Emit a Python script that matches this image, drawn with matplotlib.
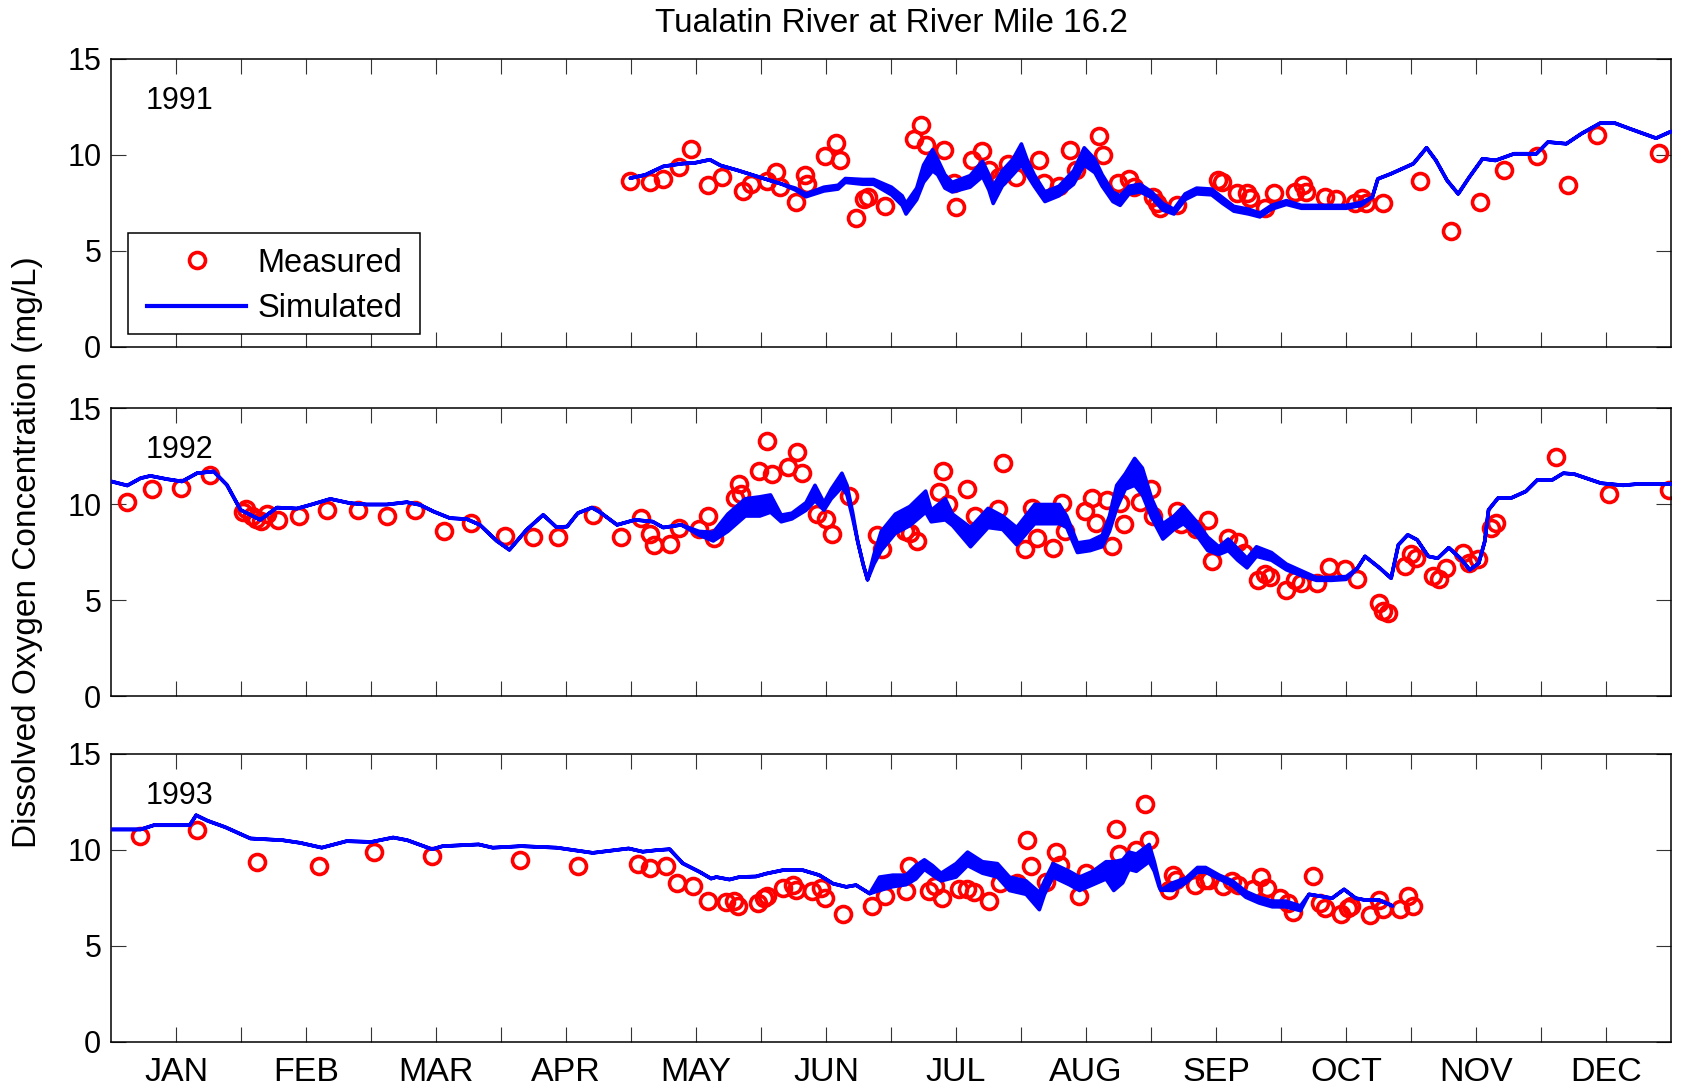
import numpy as np
import matplotlib
matplotlib.use("Agg")
import matplotlib.pyplot as plt
from matplotlib.lines import Line2D
from matplotlib.patches import Rectangle

plt.rcParams["font.family"] = ["Liberation Sans", "DejaVu Sans"]
plt.rcParams["font.size"] = 22

months = ["JAN", "FEB", "MAR", "APR", "MAY", "JUN",
          "JUL", "AUG", "SEP", "OCT", "NOV", "DEC"]
years = ["1991", "1992", "1993"]

# ---- measured dissolved oxygen (day of year, mg/L) ----
m91_day = [121.4, 126.2, 129.1, 132.9, 135.8, 139.7, 143.0, 147.9, 149.7, 153.6,
           155.6, 156.6, 160.3, 162.3, 162.8, 167.1, 169.6, 170.6, 174.2, 176.3,
           177.1, 181.0, 187.8, 189.6, 190.6, 194.8, 197.3, 197.8, 201.5, 203.8,
           205.5, 207.8, 209.8, 211.7, 217.2, 218.2, 221.8, 224.3, 225.7, 231.2,
           232.0, 235.5, 238.1, 239.4, 243.8, 244.7, 245.5, 249.5, 259.1, 260.0,
           263.5, 265.7, 266.5, 270.0, 272.2, 277.0, 278.8, 279.7, 284.0, 286.6,
           291.0, 292.8, 293.7, 297.6, 306.3, 313.5, 320.2, 326.0, 333.7, 340.9,
           347.6, 362.1]
m91_do = [8.65, 8.61, 8.73, 9.39, 10.3, 8.44, 8.84, 8.13, 8.49, 8.66,
          9.13, 8.35, 7.57, 8.96, 8.49, 9.97, 10.6, 9.74, 6.74, 7.71,
          7.83, 7.34, 10.83, 11.56, 10.52, 10.26, 8.52, 7.31, 9.74, 10.21,
          9.22, 8.87, 9.51, 8.87, 9.74, 8.52, 8.39, 10.26, 9.22, 10.99,
          10.0, 8.52, 8.73, 8.35, 7.83, 7.48, 7.22, 7.40, 8.70, 8.61,
          8.0, 8.0, 7.74, 7.22, 8.0, 8.09, 8.44, 8.09, 7.83, 7.69,
          7.48, 7.74, 7.48, 7.48, 8.66, 6.06, 7.57, 9.22, 9.95, 8.44,
          11.04, 10.09]

m92_day = [3.8, 9.7, 16.3, 23.1, 30.9, 31.7, 32.9, 34.0, 35.2, 36.4,
           39.1, 43.9, 50.5, 57.8, 64.6, 71.2, 78.0, 84.3, 92.1, 98.7,
           104.5, 112.7, 119.4, 124.1, 126.0, 127.1, 130.8, 132.9, 137.5, 139.8,
           141.0, 145.9, 147.0, 147.5, 151.7, 153.6, 154.7, 158.5, 160.6, 161.6,
           165.2, 167.3, 168.7, 172.6, 179.2, 180.3, 185.8, 187.0, 188.7, 193.7,
           194.7, 195.8, 200.2, 202.1, 207.5, 208.8, 213.8, 215.4, 216.7, 220.3,
           222.4, 223.2, 227.8, 229.5, 230.5, 233.0, 234.2, 236.1, 237.0, 240.7,
           243.4, 243.9, 249.5, 250.4, 253.9, 256.6, 257.5, 261.3, 263.6, 265.2,
           268.3, 270.0, 271.2, 274.9, 277.0, 278.4, 282.2, 285.1, 288.8, 291.5,
           296.6, 297.6, 298.7, 302.7, 304.2, 305.3, 309.4, 310.7, 312.4, 316.3,
           317.7, 319.9, 322.9, 324.0, 338.0, 350.5, 364.5]
m92_do = [10.1, 10.76, 10.85, 11.49, 9.6, 9.72, 9.38, 9.2, 9.13, 9.48,
          9.16, 9.38, 9.67, 9.67, 9.36, 9.67, 8.59, 9.03, 8.33, 8.28,
          8.28, 9.43, 8.3, 9.29, 8.42, 7.86, 7.93, 8.77, 8.69, 9.38,
          8.25, 10.33, 11.02, 10.5, 11.72, 13.3, 11.58, 11.93, 12.71, 11.63,
          9.46, 9.2, 8.45, 10.42, 8.37, 7.64, 8.59, 8.51, 8.07, 10.64,
          11.72, 9.98, 10.76, 9.38, 9.72, 12.15, 7.64, 9.81, 8.25, 7.73,
          10.07, 8.59, 9.64, 10.33, 9.03, 10.2, 7.81, 10.07, 8.94, 10.1,
          10.76, 9.38, 9.64, 8.94, 8.68, 9.15, 7.03, 8.25, 8.04, 7.47,
          6.02, 6.34, 6.2, 5.5, 6.02, 5.9, 5.9, 6.72, 6.6, 6.08,
          4.86, 4.43, 4.3, 6.77, 7.38, 7.2, 6.25, 6.08, 6.69, 7.47,
          6.94, 7.12, 8.77, 9.03, 12.45, 10.54, 10.71]

m93_day = [6.8, 20.1, 34.1, 48.6, 61.5, 75.0, 95.7, 109.3, 123.2, 126.1,
           129.8, 132.5, 136.2, 139.6, 143.9, 145.8, 146.8, 151.3, 152.8, 153.6,
           157.3, 159.5, 160.2, 164.1, 166.1, 167.1, 171.3, 178.0, 181.1, 185.9,
           186.7, 191.4, 192.8, 194.5, 198.5, 200.4, 201.9, 205.4, 208.1, 212.0,
           214.4, 215.2, 218.8, 221.0, 222.0, 226.4, 228.1, 233.1, 235.1, 235.9,
           239.8, 241.9, 242.9, 247.5, 248.6, 249.2, 253.7, 256.0, 256.8, 260.3,
           262.2, 263.6, 267.3, 269.1, 270.4, 273.5, 275.4, 276.6, 281.3, 282.8,
           284.0, 287.9, 289.4, 290.2, 294.5, 296.8, 297.6, 301.5, 303.5, 304.7]
m93_do = [10.73, 11.04, 9.34, 9.13, 9.88, 9.65, 9.48, 9.13, 9.25, 9.04,
          9.13, 8.26, 8.09, 7.31, 7.27, 7.31, 7.05, 7.22, 7.48, 7.6,
          8.0, 8.18, 7.9, 7.83, 8.0, 7.48, 6.67, 7.08, 7.57, 7.83,
          9.17, 7.83, 8.09, 7.48, 7.96, 7.96, 7.79, 7.31, 8.26, 8.26,
          10.52, 9.17, 8.31, 9.86, 9.22, 7.57, 8.78, 8.87, 11.08, 9.78,
          10.0, 12.4, 10.5, 7.92, 8.7, 8.44, 8.18, 8.44, 8.44, 8.1,
          8.35, 8.18, 7.96, 8.58, 8.0, 7.48, 7.22, 6.74, 8.61, 7.22,
          6.96, 6.67, 6.96, 7.05, 6.61, 7.4, 6.9, 6.9, 7.57, 7.08]

# ---- simulated dissolved oxygen: daily low / high envelope ----
s91_day = [121.4, 124.9, 129.1, 133.3, 136.6, 140.0, 142.5, 146.6, 151.6, 156.7,
           160.0, 162.5, 166.7, 170.0, 171.7, 175.8, 178.3, 182.5, 185.0, 185.9,
           188.4, 190.0, 192.1, 193.3, 195.0, 196.7, 200.9, 203.8, 205.3, 206.3,
           208.4, 210.9, 212.9, 214.2, 215.9, 218.4, 221.7, 225.1, 227.6, 230.1,
           231.8, 234.3, 236.0, 238.1, 240.7, 243.4, 246.0, 248.6, 251.2, 253.9,
           257.4, 260.0, 262.6, 266.1, 268.7, 271.4, 274.9, 278.4, 283.6, 288.9,
           292.4, 295.0, 296.3, 299.4, 304.6, 307.7, 309.9, 312.5, 315.1, 317.7,
           320.8, 323.8, 328.2, 333.4, 336.1, 340.4, 343.9, 348.3, 351.8, 355.3,
           361.4, 364.5, 365.0]
s91_lo = [8.82, 8.99, 9.43, 9.57, 9.62, 9.78, 9.48, 9.22, 8.87, 8.52,
          8.2, 7.85, 8.15, 8.25, 8.6, 8.5, 8.5, 7.95, 7.4, 6.95,
          7.7, 8.6, 9.2, 9.0, 8.3, 8.1, 8.35, 8.9, 8.2, 7.5,
          8.4, 9.0, 9.5, 9.0, 8.4, 7.6, 7.9, 8.5, 9.5, 9.1,
          8.4, 7.6, 7.4, 8.0, 8.1, 7.8, 7.15, 6.95, 7.7, 8.0,
          7.95, 7.5, 7.1, 6.95, 6.8, 7.2, 7.45, 7.25, 7.25, 7.25,
          7.4, 7.83, 8.78, 9.05, 9.57, 10.4, 9.74, 8.7, 8.0, 8.87,
          9.83, 9.74, 10.09, 10.09, 10.7, 10.61, 11.13, 11.68, 11.68, 11.39,
          10.9, 11.21, 11.25]
s91_hi = [8.82, 8.99, 9.43, 9.57, 9.62, 9.78, 9.48, 9.22, 8.87, 8.52,
          8.3, 8.0, 8.35, 8.45, 8.8, 8.75, 8.75, 8.35, 7.9, 7.5,
          8.3, 9.5, 10.3, 9.8, 9.0, 8.6, 8.95, 9.7, 9.0, 8.4,
          9.2, 9.8, 10.6, 9.8, 9.0, 8.1, 8.4, 9.2, 10.4, 9.8,
          9.0, 8.1, 7.9, 8.4, 8.5, 8.1, 7.5, 7.2, 8.0, 8.3,
          8.25, 7.8, 7.35, 7.2, 7.0, 7.4, 7.65, 7.4, 7.4, 7.4,
          7.55, 7.83, 8.78, 9.05, 9.57, 10.4, 9.74, 8.7, 8.0, 8.87,
          9.83, 9.74, 10.09, 10.09, 10.7, 10.61, 11.13, 11.68, 11.68, 11.39,
          10.9, 11.21, 11.25]

s92_day = [0.0, 3.7, 6.8, 9.1, 13.0, 16.5, 20.0, 23.9, 27.0, 30.2,
           34.8, 38.7, 43.4, 46.5, 51.2, 55.8, 59.7, 64.4, 69.1, 72.2,
           75.3, 79.2, 83.1, 86.2, 90.1, 93.1, 97.1, 101.0, 104.1, 106.6,
           109.1, 112.4, 114.3, 118.3, 122.5, 126.6, 129.1, 133.3, 137.5, 140.8,
           144.2, 148.3, 151.7, 154.2, 156.7, 159.2, 162.5, 164.6, 166.7, 168.4,
           170.9, 172.1, 173.4, 174.6, 175.9, 176.9, 178.4, 180.1, 183.4, 186.8,
           190.5, 191.8, 195.1, 196.8, 201.0, 205.1, 208.5, 211.8, 216.0, 221.8,
           223.5, 226.0, 229.0, 231.8, 233.5, 235.2, 237.2, 239.4, 241.2, 243.4,
           246.0, 248.6, 250.8, 253.9, 256.5, 259.1, 261.3, 263.5, 265.7, 267.9,
           271.4, 274.9, 278.4, 281.9, 285.4, 288.9, 291.5, 293.3, 296.8, 299.4,
           301.1, 303.3, 305.5, 308.1, 310.3, 312.9, 315.6, 317.8, 319.9, 321.3,
           322.2, 324.4, 327.4, 330.9, 333.6, 337.1, 339.7, 342.3, 348.5, 353.7,
           357.2, 365.0]
s92_lo = [11.2, 10.99, 11.37, 11.49, 11.32, 11.2, 11.63, 11.72, 11.02, 9.72,
          9.2, 9.84, 9.79, 9.98, 10.29, 10.07, 10.0, 10.0, 10.12, 9.98,
          9.64, 9.29, 9.24, 8.94, 8.11, 7.64, 8.68, 9.46, 8.82, 8.85,
          9.55, 9.84, 9.6, 8.94, 9.2, 9.11, 8.8, 8.94, 8.4, 8.1,
          8.6, 9.4, 9.4, 9.6, 9.1, 9.25, 9.7, 10.2, 9.7, 10.3,
          10.9, 10.5, 9.3, 8.07, 6.86, 6.08, 6.9, 7.6, 8.5, 8.9,
          9.6, 9.1, 9.2, 8.9, 7.8, 8.8, 8.7, 7.9, 9.0, 9.0,
          8.8, 7.5, 7.6, 7.8, 8.6, 9.8, 10.8, 11.0, 10.5, 9.3,
          8.2, 8.7, 9.0, 8.4, 7.6, 7.4, 7.6, 7.1, 6.7, 7.3,
          7.1, 6.6, 6.3, 6.05, 6.05, 6.1, 6.68, 7.3, 6.68, 6.16,
          7.9, 8.42, 8.16, 7.3, 7.2, 7.75, 7.2, 6.6, 6.94, 8.07,
          9.72, 10.33, 10.33, 10.68, 11.28, 11.28, 11.63, 11.58, 11.11, 11.0,
          11.07, 11.07]
s92_hi = [11.2, 10.99, 11.37, 11.49, 11.32, 11.2, 11.63, 11.72, 11.02, 9.72,
          9.2, 9.84, 9.79, 9.98, 10.29, 10.07, 10.0, 10.0, 10.12, 9.98,
          9.64, 9.29, 9.24, 8.94, 8.11, 7.64, 8.68, 9.46, 8.82, 8.85,
          9.55, 9.84, 9.6, 8.94, 9.2, 9.11, 8.8, 8.94, 8.6, 8.55,
          9.5, 10.3, 10.4, 10.5, 9.45, 9.55, 10.1, 11.0, 10.1, 10.8,
          11.63, 11.0, 9.6, 8.07, 6.86, 6.08, 7.4, 8.6, 9.5, 9.9,
          10.7, 9.7, 10.3, 9.5, 8.8, 9.8, 9.4, 8.8, 10.0, 10.0,
          9.4, 8.0, 8.1, 8.4, 9.4, 11.0, 11.6, 12.4, 11.9, 10.3,
          9.0, 9.4, 9.9, 9.1, 8.3, 7.8, 8.2, 7.7, 7.2, 7.8,
          7.5, 6.9, 6.55, 6.2, 6.2, 6.25, 6.68, 7.3, 6.68, 6.16,
          7.9, 8.42, 8.16, 7.3, 7.2, 7.75, 7.2, 6.6, 6.94, 8.07,
          9.72, 10.33, 10.33, 10.68, 11.28, 11.28, 11.63, 11.58, 11.11, 11.0,
          11.07, 11.07]

s93_day = [0.0, 6.8, 9.9, 14.1, 18.3, 19.8, 22.5, 26.6, 32.5, 40.0,
           44.2, 49.2, 55.0, 60.8, 65.9, 69.2, 75.0, 77.5, 85.9, 89.2,
           95.9, 104.2, 112.6, 121.0, 124.3, 127.5, 130.6, 133.7, 137.6, 140.3,
           141.5, 144.6, 146.9, 150.8, 153.2, 157.1, 161.7, 165.6, 168.8, 171.9,
           174.2, 177.4, 179.7, 182.8, 185.9, 188.2, 190.2, 192.1, 194.1, 197.6,
           200.3, 203.8, 207.3, 210.1, 214.0, 217.1, 218.3, 220.3, 224.1, 226.5,
           229.6, 232.7, 234.5, 236.6, 238.1, 239.8, 242.8, 244.0, 245.1, 245.5,
           248.3, 251.4, 254.1, 256.0, 259.2, 262.3, 265.4, 268.5, 271.6, 274.7,
           278.2, 280.2, 282.9, 285.6, 288.4, 291.1, 293.4, 296.6, 299.7]
s93_lo = [11.08, 11.08, 11.3, 11.3, 11.3, 11.82, 11.53, 11.2, 10.61, 10.52,
          10.38, 10.13, 10.47, 10.43, 10.66, 10.52, 10.05, 10.21, 10.3, 10.13,
          10.21, 10.13, 9.86, 10.09, 9.92, 10.0, 10.05, 9.31, 8.87, 8.52,
          8.6, 8.47, 8.6, 8.63, 8.78, 8.96, 8.96, 8.7, 8.26, 8.09,
          8.18, 7.74, 7.9, 8.1, 8.2, 8.5, 9.0, 8.7, 8.4, 8.6,
          9.2, 8.8, 8.6, 7.9, 7.7, 6.9, 7.7, 8.6, 8.2, 7.9,
          8.2, 8.5, 7.9, 8.3, 9.0, 8.9, 9.4, 8.9, 8.1, 7.92,
          7.9, 8.3, 8.85, 8.85, 8.5, 8.15, 7.55, 7.25, 7.05, 7.05,
          6.85, 7.7, 7.6, 7.5, 7.96, 7.5, 7.4, 7.4, 7.1]
s93_hi = [11.08, 11.08, 11.3, 11.3, 11.3, 11.82, 11.53, 11.2, 10.61, 10.52,
          10.38, 10.13, 10.47, 10.43, 10.66, 10.52, 10.05, 10.21, 10.3, 10.13,
          10.21, 10.13, 9.86, 10.09, 9.92, 10.0, 10.05, 9.31, 8.87, 8.52,
          8.6, 8.47, 8.6, 8.63, 8.78, 8.96, 8.96, 8.7, 8.26, 8.09,
          8.18, 7.74, 8.6, 8.7, 8.7, 9.2, 9.5, 9.2, 8.8, 9.3,
          9.9, 9.4, 9.3, 8.6, 8.4, 7.8, 8.4, 9.3, 8.9, 8.6,
          8.9, 9.4, 9.4, 9.5, 9.9, 9.8, 10.3, 9.4, 8.4, 7.92,
          8.3, 8.55, 9.1, 9.1, 8.7, 8.4, 7.85, 7.55, 7.35, 7.35,
          7.1, 7.7, 7.6, 7.5, 7.96, 7.5, 7.4, 7.4, 7.1]

measured = [(m91_day, m91_do), (m92_day, m92_do), (m93_day, m93_do)]
simulated = [(s91_day, s91_lo, s91_hi), (s92_day, s92_lo, s92_hi),
             (s93_day, s93_lo, s93_hi)]

RED = "#ff0000"
BLUE = "#0000ff"

fig = plt.figure(figsize=(16.87, 10.86), dpi=100)
left, width, height = 0.0658, 0.9247, 0.2652
bottoms = [0.6805, 0.3591, 0.0408]

# ticks every half month, month names on the mid-month ticks
tick_pos = np.arange(1, 24) * 365 / 24
tick_lab = []
for k in range(1, 24):
    tick_lab.append(months[k // 2] if k % 2 == 1 else "")

axes = []
for i, (yr, b) in enumerate(zip(years, bottoms)):
    ax = fig.add_axes([left, b, width, height])
    axes.append(ax)
    mday, mdo = measured[i]
    sday, slo, shi = simulated[i]
    ax.plot(mday, mdo, linestyle="none", marker="o", ms=11.5,
            mfc="none", mec=RED, mew=2.6, zorder=2)
    ax.fill_between(sday, slo, shi, facecolor=BLUE, edgecolor=BLUE,
                    linewidth=2.6, zorder=3)
    ax.set_xlim(0, 365)
    ax.set_ylim(0, 15)
    ax.set_yticks([0, 5, 10, 15])
    ax.set_xticks(tick_pos)
    if i == 2:
        ax.set_xticklabels(tick_lab)
    else:
        ax.set_xticklabels([])
    ax.tick_params(direction="in", length=10.5, width=0.8, color="#333333",
                   top=True, right=True)
    ax.tick_params(axis="x", pad=11, labelsize=24.5)
    ax.tick_params(axis="y", pad=7, labelsize=22)
    for sp in ax.spines.values():
        sp.set_linewidth(1.1)
    ax.text(8, 12.8, yr, fontsize=22, ha="left", va="center")

# legend in the first panel, frame drawn separately
ax0 = axes[0]
ax0.add_patch(Rectangle((0.0107, 0.0451), 0.1876, 0.3518,
                        transform=ax0.transAxes, facecolor="white",
                        edgecolor="black", linewidth=1.1, zorder=5))
handles = [
    Line2D([], [], linestyle="none", marker="o", ms=11.5, mfc="none",
           mec=RED, mew=2.6),
    Line2D([], [], color=BLUE, lw=3.0),
]
leg = ax0.legend(handles, ["Measured", "Simulated"], loc="center left",
                 bbox_to_anchor=(0.0228, 0.212), borderaxespad=0,
                 borderpad=0, fontsize=23.5, handlelength=3.06,
                 handletextpad=0.35, labelspacing=0.45, frameon=False)
leg.set_zorder(6)

fig.text(0.5282, 0.9785, "Tualatin River at River Mile 16.2",
         ha="center", va="center", fontsize=24)
fig.text(0.0165, 0.4917, "Dissolved Oxygen Concentration (mg/L)",
         ha="center", va="center", rotation=90, fontsize=24)

fig.savefig("out.png", dpi=100)
